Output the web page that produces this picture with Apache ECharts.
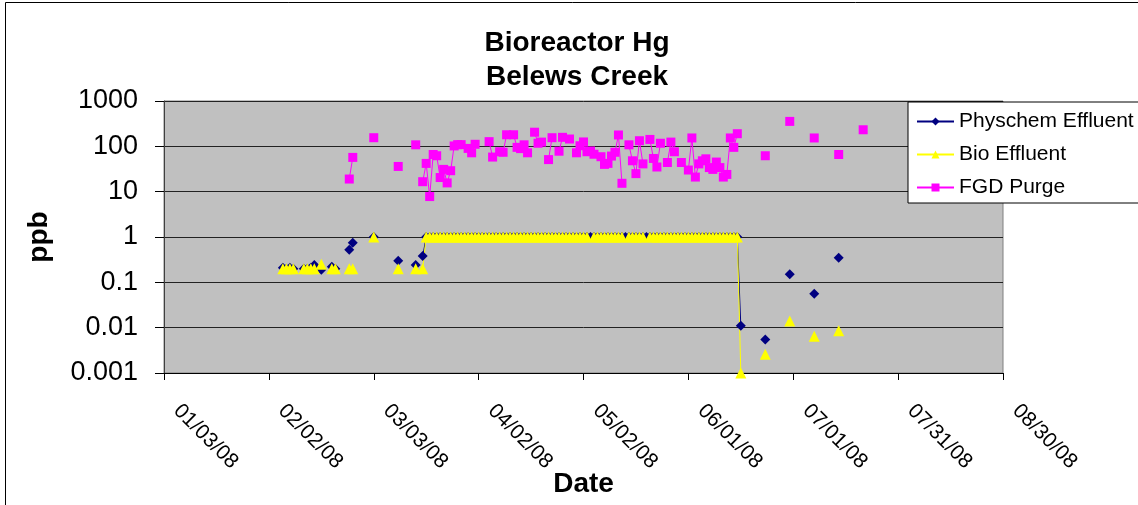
<!DOCTYPE html>
<html>
<head>
<meta charset="utf-8">
<title>Bioreactor Hg - Belews Creek</title>
<script src="https://cdn.jsdelivr.net/npm/echarts@6/dist/echarts.min.js"></script>
<style>
    html, body { margin: 0; padding: 0; background: #ffffff; }
    #chart { width: 1138px; height: 505px; }
</style>
</head>
<body>
<div id="chart"></div>
<script>
// tick labels
const xTickLabels = ['01/03/08', '02/02/08', '03/03/08', '04/02/08', '05/02/08', '06/01/08', '07/01/08', '07/31/08', '08/30/08']
const yTickLabels = ['0.001', '0.01', '0.1', '1', '10', '100', '1000']

// Physchem Effluent (ppb), sample dates in 2008
const physchemDates = [
    '02/06', '02/07', '02/08', '02/09', '02/12', '02/13', '02/14', '02/15', '02/17', '02/20', '02/21',
    '02/25', '02/26', '03/03', '03/10', '03/15', '03/17',
    '03/18', '03/19', '03/20', '03/21', '03/22', '03/23', '03/24', '03/25', '03/26', '03/27', '03/28', '03/29', '03/30', '03/31',
    '04/01', '04/02', '04/03', '04/04', '04/05', '04/06', '04/07', '04/08', '04/09', '04/10', '04/11', '04/12', '04/13', '04/14', '04/15',
    '04/16', '04/17', '04/18', '04/19', '04/20', '04/21', '04/22', '04/23', '04/24', '04/25', '04/26', '04/27', '04/28', '04/29', '04/30',
    '05/01', '05/02', '05/03', '05/04', '05/05', '05/06', '05/07', '05/08', '05/09', '05/10', '05/11', '05/12', '05/13', '05/14', '05/15',
    '05/16', '05/17', '05/18', '05/19', '05/20', '05/21', '05/22', '05/23', '05/24', '05/25', '05/26', '05/27', '05/28', '05/29', '05/30', '05/31',
    '06/01', '06/02', '06/03', '06/04', '06/05', '06/06', '06/07', '06/08', '06/09', '06/10', '06/11', '06/12', '06/13', '06/14', '06/15',
    '06/16', '06/23', '06/30', '07/07', '07/14'
]
const physchemValues = [
    0.21, 0.2, 0.21, 0.2, 0.2, 0.2, 0.21, 0.24, 0.19, 0.22, 0.2,
    0.52, 0.75, 1, 0.3, 0.24, 0.38,
    1, 1, 1, 1, 1, 1, 1, 1, 1, 1, 1, 1, 1, 1,
    1, 1, 1, 1, 1, 1, 1, 1, 1, 1, 1, 1, 1, 1, 1,
    1, 1, 1, 1, 1, 1, 1, 1, 1, 1, 1, 1, 1, 1, 1,
    1, 1, 1, 1, 1, 1, 1, 1, 1, 1, 1, 1, 1, 1, 1,
    1, 1, 1, 1, 1, 1, 1, 1, 1, 1, 1, 1, 1, 1, 1, 1,
    1, 1, 1, 1, 1, 1, 1, 1, 1, 1, 1, 1, 1, 1, 1,
    0.011, 0.0055, 0.15, 0.056, 0.35
]

// Bio Effluent (ppb)
const bioDates = [
    '02/06', '02/07', '02/08', '02/09', '02/12', '02/13', '02/14', '02/15', '02/17', '02/20', '02/21',
    '02/25', '02/26', '03/03', '03/10', '03/15', '03/17',
    '03/18', '03/19', '03/20', '03/21', '03/22', '03/23', '03/24', '03/25', '03/26', '03/27', '03/28', '03/29', '03/30', '03/31',
    '04/01', '04/02', '04/03', '04/04', '04/05', '04/06', '04/07', '04/08', '04/09', '04/10', '04/11', '04/12', '04/13', '04/14', '04/15',
    '04/16', '04/17', '04/18', '04/19', '04/20', '04/21', '04/22', '04/23', '04/24', '04/25', '04/26', '04/27', '04/28', '04/29', '04/30',
    '05/01', '05/02', '05/03', '05/05', '05/06', '05/07', '05/08', '05/09', '05/10', '05/11', '05/12', '05/13', '05/15',
    '05/16', '05/17', '05/18', '05/19', '05/21', '05/22', '05/23', '05/24', '05/25', '05/26', '05/27', '05/28', '05/29', '05/30', '05/31',
    '06/01', '06/02', '06/03', '06/04', '06/05', '06/06', '06/07', '06/08', '06/09', '06/10', '06/11', '06/12', '06/13', '06/14', '06/15',
    '06/16', '06/23', '06/30', '07/07', '07/14'
]
const bioValues = [
    0.2, 0.2, 0.2, 0.2, 0.2, 0.2, 0.2, 0.2, 0.25, 0.2, 0.2,
    0.2, 0.2, 1, 0.2, 0.2, 0.2,
    1, 1, 1, 1, 1, 1, 1, 1, 1, 1, 1, 1, 1, 1,
    1, 1, 1, 1, 1, 1, 1, 1, 1, 1, 1, 1, 1, 1, 1,
    1, 1, 1, 1, 1, 1, 1, 1, 1, 1, 1, 1, 1, 1, 1,
    1, 1, 1, 1, 1, 1, 1, 1, 1, 1, 1, 1, 1,
    1, 1, 1, 1, 1, 1, 1, 1, 1, 1, 1, 1, 1, 1, 1,
    1, 1, 1, 1, 1, 1, 1, 1, 1, 1, 1, 1, 1, 1, 1,
    0.001, 0.0026, 0.014, 0.0065, 0.0086
]

// FGD Purge (ppb)
const fgdDates = [
    '02/25', '02/26', '03/03', '03/10', '03/15',
    '03/17', '03/18', '03/19', '03/20', '03/21', '03/22', '03/23', '03/24', '03/25', '03/26', '03/27', '03/28',
    '03/30', '03/31', '04/01', '04/05', '04/06', '04/08', '04/09', '04/10', '04/12', '04/13', '04/14', '04/15', '04/16',
    '04/18', '04/19', '04/20', '04/22', '04/23', '04/25', '04/26', '04/28', '04/30',
    '05/01', '05/02', '05/03', '05/04', '05/05', '05/07', '05/08', '05/09', '05/10', '05/11', '05/12', '05/13',
    '05/15', '05/16', '05/17', '05/18', '05/19', '05/21', '05/22', '05/23', '05/24', '05/26', '05/27', '05/28', '05/30',
    '06/01', '06/02', '06/03', '06/04', '06/05', '06/06', '06/07', '06/08', '06/09', '06/10', '06/11', '06/12', '06/13', '06/14', '06/15',
    '06/23', '06/30', '07/07', '07/14', '07/21'
]
const fgdValues = [
    19, 57, 155, 36, 108,
    16.6, 42, 7.8, 66, 62, 20.5, 31, 15.6, 29, 102, 109, 109,
    90, 72, 111, 127, 58, 76, 74, 180, 180, 95, 89, 108, 72,
    205, 117, 124, 51, 155, 78, 158, 145, 72,
    103, 125, 76, 79, 67, 59, 40, 42, 61, 74, 178, 15.3,
    108, 48, 25, 133, 41, 142, 54, 35, 117, 44, 124, 76, 44,
    30, 153, 21, 41, 48, 53, 34, 31, 45, 34, 21, 24, 153, 95, 190,
    62, 355, 153, 66, 232
]

const FONT = 'Liberation Sans, Arial, Helvetica, sans-serif'
const START = Date.UTC(2008, 0, 3)
const DAY_MS = 86400000

// days since 01/03/08
const toDay = (s) => {
    const [m, d] = s.split('/').map(Number)
    return Math.round((Date.UTC(2008, m - 1, d) - START) / DAY_MS)
}

// like the spreadsheet: the line only joins samples on consecutive days
const buildPoints = (dates, values) => {
    const points = []
    dates.forEach((s, i) => {
        const day = toDay(s)
        if (i > 0 && day - toDay(dates[i - 1]) > 1) points.push([day - 0.5, '-'])
        points.push([day, values[i]])
    })
    return points
}

const makeSeries = (name, color, symbol, symbolSize, dates, values) => ({
    name,
    type: 'line',
    data: buildPoints(dates, values),
    symbol,
    symbolSize,
    showAllSymbol: true,
    connectNulls: false,
    lineStyle: { color, width: 1 },
    itemStyle: { color, borderWidth: 0 },
    emphasis: { disabled: true },
    animation: false
})

const chart = echarts.init(document.getElementById('chart'))

chart.setOption({
    backgroundColor: '#ffffff',
    animation: false,
    textStyle: { fontFamily: FONT },
    title: {
        text: 'Bioreactor Hg\nBelews Creek',
        left: 572,
        top: 21,
        textAlign: 'center',
        textStyle: { fontFamily: FONT, fontSize: 28, fontWeight: 'bold', color: '#000', lineHeight: 34 }
    },
    graphic: [{
        type: 'rect',
        shape: { x: 5.5, y: 2.5, width: 1140, height: 510 },
        style: { fill: 'none', stroke: '#000', lineWidth: 1 },
        silent: true,
        z: -1
    }],
    legend: {
        orient: 'vertical',
        left: 908,
        top: 102,
        padding: [9, 8, 5, 8],
        itemGap: 12,
        itemWidth: 37,
        itemHeight: 10,
        backgroundColor: '#ffffff',
        borderColor: '#000',
        borderWidth: 1,
        borderRadius: 0,
        selectedMode: false,
        textStyle: { fontFamily: FONT, fontSize: 21, color: '#000', lineHeight: 21 },
        data: ['Physchem Effluent', 'Bio Effluent', 'FGD Purge']
    },
    grid: {
        left: 164,
        top: 101,
        width: 839,
        height: 272,
        containLabel: false,
        outerBoundsMode: 'none',
        show: true,
        backgroundColor: '#c0c0c0',
        borderColor: '#808080',
        borderWidth: 1
    },
    xAxis: {
        type: 'value',
        min: 0,
        max: 240,
        interval: 30,
        name: 'Date',
        nameLocation: 'middle',
        nameGap: 97,
        nameMoveOverlap: false,
        nameTextStyle: { fontFamily: FONT, fontSize: 28, fontWeight: 'bold', color: '#000' },
        axisLine: { show: true, onZero: false, lineStyle: { color: '#000', width: 1 } },
        axisTick: { show: true, inside: false, length: 7, lineStyle: { color: '#000' } },
        splitLine: { show: false },
        axisLabel: {
            rotate: -45,
            margin: 22,
            padding: [0, 0, 0, 18],
            fontFamily: FONT,
            fontSize: 21,
            color: '#000',
            showMinLabel: true,
            showMaxLabel: true,
            hideOverlap: false,
            formatter: (v) => xTickLabels[Math.round(v / 30)]
        }
    },
    yAxis: {
        type: 'log',
        logBase: 10,
        min: 0.001,
        max: 1000,
        splitNumber: 6,
        name: 'ppb',
        nameLocation: 'middle',
        nameRotate: 90,
        nameGap: 111,
        nameMoveOverlap: false,
        nameTextStyle: { fontFamily: FONT, fontSize: 28, fontWeight: 'bold', color: '#000' },
        axisLine: { show: true, lineStyle: { color: '#404040', width: 1 } },
        axisTick: { show: true, inside: false, length: 9, lineStyle: { color: '#000' } },
        splitLine: { show: true, lineStyle: { color: '#222', width: 1 } },
        axisLabel: {
            margin: 26,
            fontFamily: FONT,
            fontSize: 27,
            color: '#000',
            showMinLabel: true,
            showMaxLabel: true,
            formatter: (v) => yTickLabels[Math.round(Math.log10(v)) + 3]
        }
    },
    series: [
        makeSeries('Physchem Effluent', '#000080', 'diamond', 10, physchemDates, physchemValues),
        makeSeries('Bio Effluent', '#ffff00', 'triangle', 11, bioDates, bioValues),
        makeSeries('FGD Purge', '#ff00ff', 'rect', 9, fgdDates, fgdValues)
    ]
})
</script>
</body>
</html>
